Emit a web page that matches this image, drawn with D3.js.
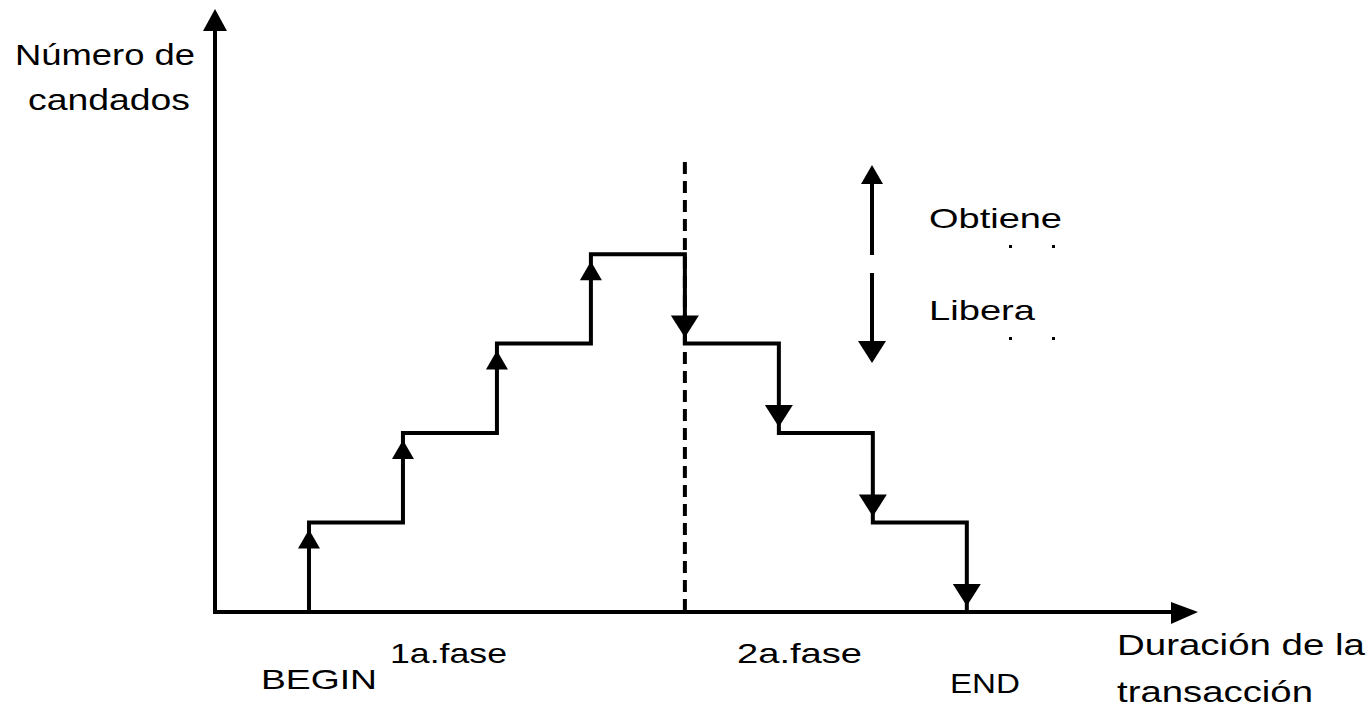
<!DOCTYPE html>
<html>
<head>
<meta charset="utf-8">
<script src="https://cdn.jsdelivr.net/npm/d3@7"></script>
<style>
  body { margin: 0; background: #fff; }
  text { font-family: "Liberation Sans", Arial, sans-serif; fill: #000; }
</style>
</head>
<body>
<div id="chart"></div>
<script>
// eventos de la transacción (tiempo) y candados retenidos tras cada uno
const eventTimes = [1, 2, 3, 4, 5, 6, 7, 8];
const lockCounts = [1, 2, 3, 4, 3, 2, 1, 0];
const lockPoint = 5;            // punto de bloqueo (línea discontinua)
const xMax = 10.46, yMax = 6.74;

const axisLabels = [
  { lines: ["Número de", "candados"], x: [15, 28], y: [65, 110], w: [180, 162] },
  { lines: ["Duración de la", "transacción"], x: [1117, 1117], y: [655, 702], w: [248, 196] }
];
const phaseLabels = [
  { text: "1a.fase", x: 390, y: 663, w: 117 },
  { text: "2a.fase", x: 737, y: 663, w: 125 },
  { text: "BEGIN", x: 261, y: 689, w: 116 },
  { text: "END", x: 950, y: 693, w: 70 }
];
const legendItems = [
  { text: "Obtiene", dir: 1, y: 228, w: 133 },
  { text: "Libera", dir: -1, y: 320, w: 106 }
];

const width = 1369, height = 708;
const svg = d3.select("#chart").append("svg")
  .attr("width", width)
  .attr("height", height);

const x = d3.scaleLinear().domain([0, xMax]).range([215, 1198]);
const y = d3.scaleLinear().domain([0, yMax]).range([612, 9]);

// ejes con flecha
svg.append("line")
  .attr("x1", x(0)).attr("x2", x(0))
  .attr("y1", y(0) + 2).attr("y2", y(yMax) + 18)
  .attr("stroke", "#000").attr("stroke-width", 4);
svg.append("line")
  .attr("x1", x(0) - 2).attr("x2", x(xMax) - 20)
  .attr("y1", y(0)).attr("y2", y(0))
  .attr("stroke", "#000").attr("stroke-width", 4);

svg.append("path")
  .attr("d", `M${x(0)},${y(yMax)} L${x(0) + 12},${y(yMax) + 22} L${x(0) - 12},${y(yMax) + 22} Z`);
svg.append("path")
  .attr("d", `M${x(xMax)},${y(0)} L${x(xMax) - 27},${y(0) - 10} L${x(xMax) - 27},${y(0) + 12} Z`);

// línea discontinua en el punto de bloqueo
svg.append("line")
  .attr("x1", x(lockPoint)).attr("x2", x(lockPoint))
  .attr("y1", 162).attr("y2", y(0))
  .attr("stroke", "#000").attr("stroke-width", 4)
  .attr("stroke-dasharray", "12,7");

// escalera
const pts = [[eventTimes[0], 0]].concat(eventTimes.map((t, i) => [t, lockCounts[i]]));
const line = d3.line()
  .x(d => x(d[0]))
  .y(d => y(d[1]))
  .curve(d3.curveStepAfter);

svg.append("path")
  .datum(pts)
  .attr("d", line)
  .attr("fill", "none")
  .attr("stroke", "#000")
  .attr("stroke-width", 4)
  .attr("stroke-linejoin", "miter")
  .attr("stroke-linecap", "square");

function upHead(cx, tip) {
  return `M${cx},${tip} L${cx + 11},${tip + 19} L${cx - 11},${tip + 19} Z`;
}
function downHead(cx, tip) {
  return `M${cx},${tip} L${cx + 14},${tip - 22} L${cx - 14},${tip - 22} Z`;
}

// puntas de flecha en cada evento
eventTimes.forEach((t, i) => {
  const prev = i === 0 ? 0 : lockCounts[i - 1];
  const cur = lockCounts[i];
  if (cur > prev) {
    svg.append("path").attr("d", upHead(x(t), y(cur) + 7));
  } else {
    svg.append("path").attr("d", downHead(x(t), y(cur) - 6));
  }
});

// leyenda
const legX = 872;
svg.append("line")
  .attr("x1", legX).attr("x2", legX).attr("y1", 255).attr("y2", 175)
  .attr("stroke", "#000").attr("stroke-width", 4);
svg.append("path").attr("d", upHead(legX, 165));
svg.append("line")
  .attr("x1", legX).attr("x2", legX).attr("y1", 273).attr("y2", 350)
  .attr("stroke", "#000").attr("stroke-width", 4);
svg.append("path").attr("d", downHead(legX, 363));

legendItems.forEach(d => {
  svg.append("text")
    .attr("x", 929).attr("y", d.y)
    .attr("font-size", 28)
    .attr("textLength", d.w)
    .attr("lengthAdjust", "spacingAndGlyphs")
    .text(d.text);
  [1010, 1053].forEach(px => {
    svg.append("rect")
      .attr("x", px - 1).attr("y", d.y + 17)
      .attr("width", 3).attr("height", 3);
  });
});

// etiquetas de los ejes
axisLabels.forEach(lab => {
  lab.lines.forEach((s, i) => {
    svg.append("text")
      .attr("x", lab.x[i]).attr("y", lab.y[i])
      .attr("font-size", 29)
      .attr("textLength", lab.w[i])
      .attr("lengthAdjust", "spacingAndGlyphs")
      .text(s);
  });
});

phaseLabels.forEach(d => {
  svg.append("text")
    .attr("x", d.x).attr("y", d.y)
    .attr("font-size", 28)
    .attr("textLength", d.w)
    .attr("lengthAdjust", "spacingAndGlyphs")
    .text(d.text);
});
</script>
</body>
</html>
